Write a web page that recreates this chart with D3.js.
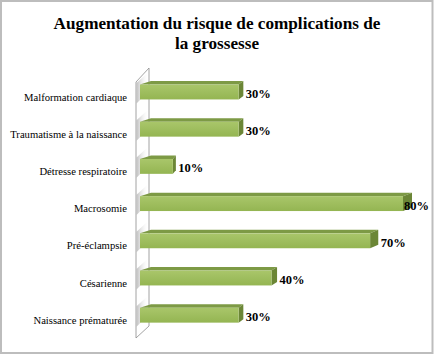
<!DOCTYPE html>
<html><head><meta charset="utf-8">
<script src="https://cdn.jsdelivr.net/npm/d3@7"></script>
<style>body{margin:0;background:#fff}svg{display:block}</style>
</head><body>
<svg id="c" width="434" height="355"></svg>
<script>
const categories = ["Malformation cardiaque","Traumatisme à la naissance","Détresse respiratoire","Macrosomie","Pré-éclampsie","Césarienne","Naissance prématurée"];
const values = [0.30, 0.30, 0.10, 0.80, 0.70, 0.40, 0.30];
const titleLines = ["Augmentation du risque de complications de","la grossesse"];

const svg = d3.select("#c");
const W = 434, H = 355;
const serif = "'Liberation Serif', 'DejaVu Serif', serif";

// outer frame
svg.append("rect").attr("x",1).attr("y",1).attr("width",W-2.5).attr("height",H-3)
  .attr("fill","#fff").attr("stroke","#bdbdbd").attr("stroke-width",2);

// title
const title = svg.append("g");
titleLines.forEach((t,i)=>{
  title.append("text").attr("x",217).attr("y",28.5+i*20.5).attr("text-anchor","middle")
    .attr("font-family",serif).attr("font-weight","bold").attr("font-size",18).attr("fill","#000").text(t);
});
const tl = title.select("text").node().getComputedTextLength();
title.selectAll("text").attr("font-size", 18*327/tl);

const x = d3.scaleLinear().domain([0,0.8]).range([140,403]);
const y = d3.scaleBand().domain(categories).range([73.4,333.8]).paddingInner(0.6).paddingOuter(0.3);

const defs = svg.append("defs");
const gFront = defs.append("linearGradient").attr("id","gf").attr("x1",0).attr("y1",0).attr("x2",0).attr("y2",1);
gFront.append("stop").attr("offset","0%").attr("stop-color","#a9c66a");
gFront.append("stop").attr("offset","100%").attr("stop-color","#94b552");
const gWall = defs.append("linearGradient").attr("id","gw").attr("x1",0).attr("y1",0).attr("x2",1).attr("y2",0);
gWall.append("stop").attr("offset","0%").attr("stop-color","#b8b8b8");
gWall.append("stop").attr("offset","100%").attr("stop-color","#ffffff").attr("stop-opacity",0);

// wall (3D left plane)
const wx0 = 136, wx1 = 149, wTopF = 82, wTopB = 68, wBotF = 338, wBotB = 326;
svg.append("path").attr("d",`M${wx0},${wTopF}L${wx1},${wTopB}L${wx1},${wBotB}L${wx0},${wBotF}Z`)
  .attr("fill","#fff").attr("stroke","#8c8c8c").attr("stroke-width",0.8);

const bh = y.bandwidth();
const dy = 3.5;
svg.append("g").selectAll("path").data(categories).join("path")
  .attr("d",d=>{const t=y(d); return `M${wx0+0.5},${t-dy+2}L${wx1-0.5},${t-dy-9}L${wx1-0.5},${t+bh-8}L${wx0+0.5},${t+bh+4}Z`;})
  .attr("fill","url(#gw)").attr("opacity",0.9);

// bars
const bars = svg.append("g").selectAll("g").data(categories.map((c,i)=>({c,v:values[i]}))).join("g");
const depth = d => 3 + (x(d.v)-173)*6/230;
bars.append("path")
  .attr("d",d=>{const t=y(d.c), x1=x(d.v), dx=depth(d); return `M${x(0)},${t}L${x1},${t}L${x1+dx},${t-dy}L${wx1+2},${t-dy}Z`;})
  .attr("fill","#7d9a45");
bars.append("path")
  .attr("d",d=>{const t=y(d.c), x1=x(d.v), dx=depth(d); return `M${x1},${t}L${x1+dx},${t-dy}L${x1+dx},${t+bh-dy}L${x1},${t+bh}Z`;})
  .attr("fill","#6b8636");
bars.append("rect")
  .attr("x",x(0)).attr("y",d=>y(d.c)).attr("width",d=>x(d.v)-x(0)).attr("height",bh)
  .attr("fill","url(#gf)");

// value labels
const vl = bars.append("text")
  .attr("y",d=>y(d.c)+bh/2+6)
  .attr("font-family",serif).attr("font-weight","bold").attr("font-size",12.5).attr("fill","#000")
  .text(d=>d3.format(".0%")(d.v));
vl.attr("x",d=>Math.min(x(d.v)+depth(d)+2.5, 404));

// category labels
const cl = svg.append("g").selectAll("text").data(categories).join("text")
  .attr("x",127).attr("y",d=>y(d)+bh/2+8.5).attr("text-anchor","end")
  .attr("font-family",serif).attr("font-size",11).attr("fill","#000").text(d=>d);
const lw = cl.nodes()[1].getComputedTextLength();
cl.attr("font-size", 11*117/lw);
</script>
</body></html>
